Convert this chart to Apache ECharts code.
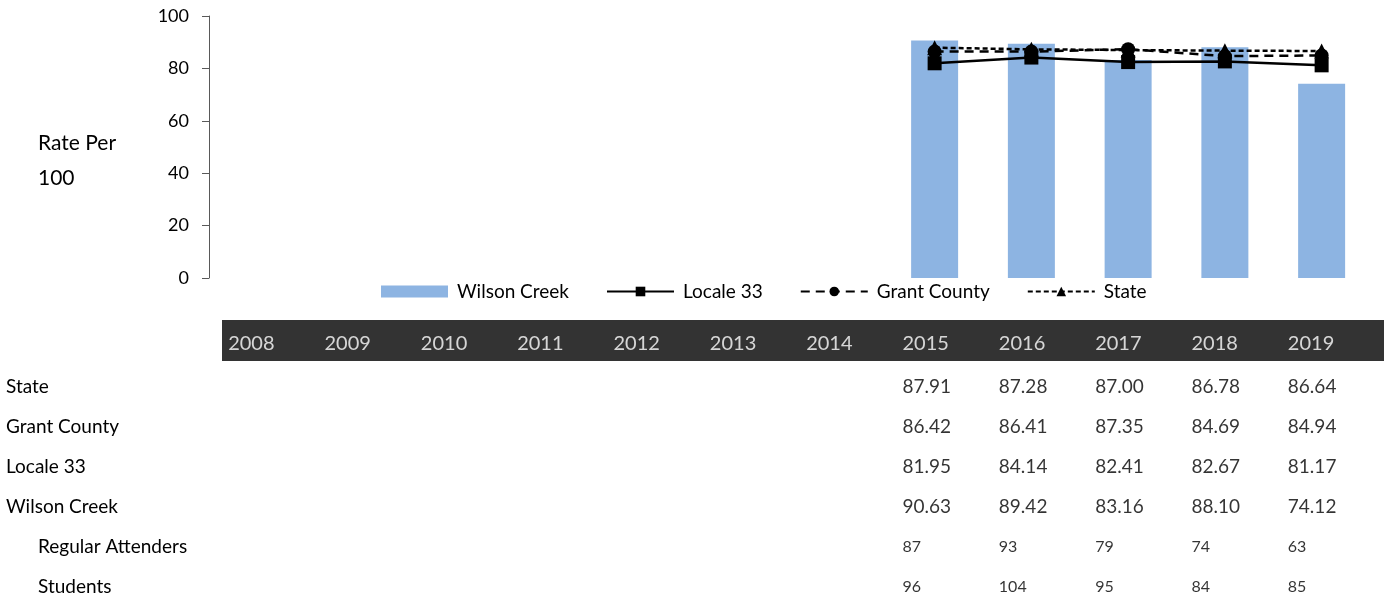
<!DOCTYPE html>
<html><head><meta charset="utf-8">
<script src="https://cdn.jsdelivr.net/npm/echarts@6/dist/echarts.min.js"></script>
<style>html,body{margin:0;padding:0;background:#fff}#c{width:1387px;height:600px}</style>
</head><body><div id="c"></div>
<script>
const years = ['2008','2009','2010','2011','2012','2013','2014','2015','2016','2017','2018','2019'];
const wilsonCreek = [null,null,null,null,null,null,null,90.63,89.42,83.16,88.10,74.12];
const locale33 = [null,null,null,null,null,null,null,81.95,84.14,82.41,82.67,81.17];
const grantCounty = [null,null,null,null,null,null,null,86.42,86.41,87.35,84.69,84.94];
const stateRate = [null,null,null,null,null,null,null,87.91,87.28,87.00,86.78,86.64];
const regularAttenders = [null,null,null,null,null,null,null,87,93,79,74,63];
const students = [null,null,null,null,null,null,null,96,104,95,84,85];
const tableRows = ['hdr','State','Grant County','Locale 33','Wilson Creek','Regular Attenders','Students'];
const subRows = ['Regular Attenders','Students'];
const yAxisName = 'Rate Per\n100';

const FONT = 'Lato';
const chart = echarts.init(document.getElementById('c'), null, {renderer:'canvas'});

function cells(row, arr) {
  const out = [];
  arr.forEach((v, i) => { if (v != null) out.push([i, row, v]); });
  return out;
}
function tableSeries(row, arr, dec, size) {
  return {
    type: 'scatter', xAxisIndex: 1, yAxisIndex: 1, symbolSize: 0, silent: true,
    data: cells(row, arr),
    label: {
      show: true, position: 'inside', align: 'left', verticalAlign: 'middle',
      offset: [-42, 0], color: '#000', fontFamily: FONT, fontSize: size,
      formatter: p => p.value[2].toFixed(dec)
    }
  };
}

const option = {
  animation: false,
  textStyle: { fontFamily: FONT },
  grid: [
    { left: 209, top: 16, width: 1161, height: 262, outerBoundsMode: 'none', containLabel: false },
    { left: 222, top: 327, width: 1156, height: 280, outerBoundsMode: 'none', containLabel: false }
  ],
  legend: {
    left: 376, top: 277, itemWidth: 67, itemHeight: 12, itemGap: 37,
    textStyle: { fontFamily: FONT, fontSize: 19, color: '#000', padding: [0,0,0,4] },
    data: [{ name: 'Wilson Creek', icon: 'rect', itemStyle: { borderWidth: 0 } }, 'Locale 33', 'Grant County', 'State']
  },
  graphic: [
    { type: 'rect', shape: { x: 222, y: 320, width: 1162, height: 41 }, style: { fill: '#333333' }, silent: true },
    { type: 'text', left: 38, top: 126, style: { text: yAxisName, fontFamily: FONT, fontSize: 21, lineHeight: 35, fill: '#000' } }
  ],
  xAxis: [
    { type: 'category', gridIndex: 0, data: years, axisLine: { show: false }, axisTick: { show: false }, axisLabel: { show: false } },
    { type: 'category', gridIndex: 1, data: years, axisLine: { show: false }, axisTick: { show: false }, axisLabel: { show: false } }
  ],
  yAxis: [
    { type: 'value', gridIndex: 0, min: 0, max: 100, interval: 20,
      axisLine: { show: true, lineStyle: { color: '#595959', width: 1 } },
      axisTick: { show: true, length: 7, lineStyle: { color: '#595959' } },
      splitLine: { show: false },
      axisLabel: { fontFamily: FONT, fontSize: 18, color: '#000', margin: 20 } },
    { type: 'category', gridIndex: 1, data: tableRows, inverse: true,
      axisLine: { show: false }, axisTick: { show: false }, splitLine: { show: false },
      axisLabel: { align: 'left', margin: 216, fontFamily: FONT, fontSize: 19, color: '#000',
        formatter: v => v === 'hdr' ? '' : (subRows.includes(v) ? '{sub|' + v + '}' : v),
        rich: { sub: { padding: [0,0,0,32], fontFamily: FONT, fontSize: 19, color: '#000' } } } }
  ],
  series: [
    { name: 'Wilson Creek', type: 'bar', data: wilsonCreek, barWidth: 47, itemStyle: { color: '#8DB4E2' } },
    { name: 'Locale 33', type: 'line', data: locale33, symbol: 'rect', symbolSize: 14,
      itemStyle: { color: '#000' }, lineStyle: { color: '#000', width: 2.5 } },
    { name: 'Grant County', type: 'line', data: grantCounty, symbol: 'circle', symbolSize: 14,
      itemStyle: { color: '#000' }, lineStyle: { color: '#000', width: 2.5, type: [9, 6] } },
    { name: 'State', type: 'line', data: stateRate, symbol: 'triangle', symbolSize: 15,
      itemStyle: { color: '#000' }, lineStyle: { color: '#000', width: 2.5, type: [5, 3] } },
    {
      type: 'scatter', xAxisIndex: 1, yAxisIndex: 1, symbolSize: 0, silent: true,
      data: years.map((y, i) => [i, 'hdr', y]),
      label: { show: true, position: 'inside', align: 'left', verticalAlign: 'middle', offset: [-42, -3],
        color: '#fff', fontFamily: FONT, fontSize: 20, formatter: p => p.value[2] }
    },
    tableSeries('State', stateRate, 2, 19),
    tableSeries('Grant County', grantCounty, 2, 19),
    tableSeries('Locale 33', locale33, 2, 19),
    tableSeries('Wilson Creek', wilsonCreek, 2, 19),
    tableSeries('Regular Attenders', regularAttenders, 0, 16),
    tableSeries('Students', students, 0, 16)
  ]
};
chart.setOption(option);
</script></body></html>
